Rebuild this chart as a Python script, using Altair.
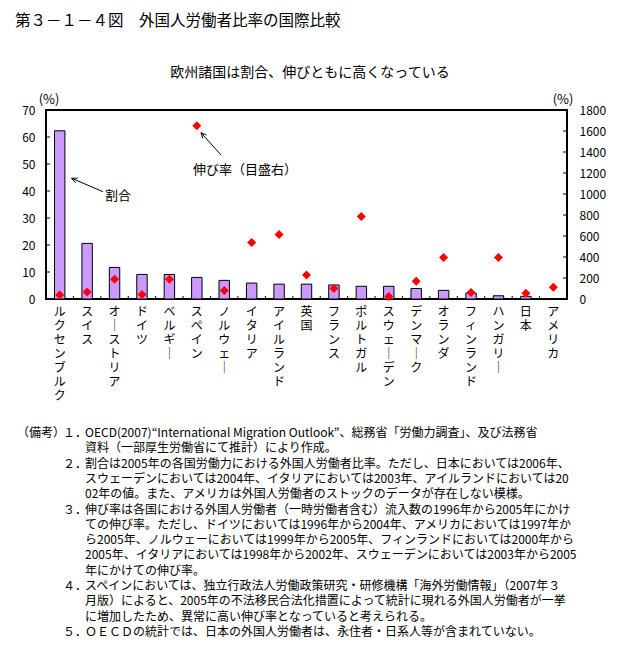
import math
import altair as alt
import pandas as pd

FONT = "Noto Sans CJK JP"

countries = ["ルクセンブルク", "スイス", "オーストリア", "ドイツ", "ベルギー", "スペイン",
             "ノルウェー", "イタリア", "アイルランド", "英国", "フランス", "ポルトガル",
             "スウェーデン", "デンマーク", "オランダ", "フィンランド", "ハンガリー", "日本", "アメリカ"]
ratio = [62.3, 20.6, 11.7, 9.1, 9.1, 8.0, 6.9, 5.9, 5.5, 5.5, 5.2, 4.7, 4.7, 3.9, 3.2, 2.2, 1.2, 1.0, None]
growth = [38, 66, 187, 44, 187, 1651, 82, 538, 614, 228, 101, 785, 25, 168, 396, 63, 396, 54, 111]
left_ticks = [0, 10, 20, 30, 40, 50, 60, 70]
right_ticks = [0, 200, 400, 600, 800, 1000, 1200, 1400, 1600, 1800]

title_text = "第３－１－４図　外国人労働者比率の国際比較"
subtitle_text = "欧州諸国は割合、伸びともに高くなっている"
note_numbers = ["１．", "", "２．", "", "", "３．", "", "", "", "", "４．", "", "", "５．"]
note_lines = [
    "OECD(2007)“International Migration Outlook”、総務省「労働力調査」、及び法務省",
    "資料（一部厚生労働省にて推計）により作成。",
    "割合は2005年の各国労働力における外国人労働者比率。ただし、日本においては2006年、",
    "スウェーデンにおいては2004年、イタリアにおいては2003年、アイルランドにおいては20",
    "02年の値。また、アメリカは外国人労働者のストックのデータが存在しない模様。",
    "伸び率は各国における外国人労働者（一時労働者含む）流入数の1996年から2005年にかけ",
    "ての伸び率。ただし、ドイツにおいては1996年から2004年、アメリカにおいては1997年か",
    "ら2005年、ノルウェーにおいては1999年から2005年、フィンランドにおいては2000年から",
    "2005年、イタリアにおいては1998年から2002年、スウェーデンにおいては2003年から2005",
    "年にかけての伸び率。",
    "スペインにおいては、独立行政法人労働政策研究・研修機構「海外労働情報」（2007年３",
    "月版）によると、2005年の不法移民合法化措置によって統計に現れる外国人労働者が一挙",
    "に増加したため、異常に高い伸び率となっていると考えられる。",
    "ＯＥＣＤの統計では、日本の外国人労働者は、永住者・日系人等が含まれていない。",
]

W, H = 521, 189
df = pd.DataFrame({"country": countries, "ratio": ratio, "growth": growth})
one = pd.DataFrame({"a": [0]})

# one row per character of each (vertically written) country label
chars = pd.DataFrame([
    {"country": c, "k": k, "ch": ("｜" if ch == "ー" else ch)}
    for c in countries for k, ch in enumerate(c)
])

xenc = alt.X("country:N", sort=countries,
             scale=alt.Scale(paddingInner=0, paddingOuter=0), axis=None)

bars = alt.Chart(df).mark_bar(fill="#CC99FF", stroke="black", strokeWidth=1,
                              width=alt.RelativeBandSize(0.38)).encode(
    x=xenc,
    y=alt.Y("ratio:Q", scale=alt.Scale(domain=[0, 70]),
            axis=alt.Axis(title=None, values=left_ticks, grid=False, ticks=False, domain=False,
                          labelFont=FONT, labelFontSize=12, labelColor="black", labelPadding=11,
                          format="d", orient="left")),
)

pts = alt.Chart(df).mark_point(shape="diamond", filled=True, color="#FF0000", size=81, opacity=1).encode(
    x=xenc,
    y=alt.Y("growth:Q", scale=alt.Scale(domain=[0, 1800]),
            axis=alt.Axis(title=None, values=right_ticks, grid=False, ticks=False, domain=False,
                          labelFont=FONT, labelFontSize=12, labelColor="black", labelPadding=12,
                          format="d", labelAlign="left", orient="right")),
)

LBL_LH = 14.1
xlabel_layers = []
for k in range(int(chars["k"].max()) + 1):
    xlabel_layers.append(
        alt.Chart(chars).transform_filter(alt.datum.k == k).mark_text(
            font=FONT, fontSize=12, baseline="middle", align="center", color="black"
        ).encode(x=xenc, y=alt.value(H + 12.5 + k * LBL_LH), text="ch:N")
    )

lt = alt.Chart(pd.DataFrame({"v": left_ticks})).mark_rule(color="black", strokeWidth=1).encode(
    y=alt.Y("v:Q", scale=alt.Scale(domain=[0, 70]), axis=None),
    x=alt.value(0), x2=alt.value(4))
rt = alt.Chart(pd.DataFrame({"v": right_ticks})).mark_rule(color="black", strokeWidth=1).encode(
    y=alt.Y("v:Q", scale=alt.Scale(domain=[0, 1800]), axis=None),
    x=alt.value(W - 4), x2=alt.value(W))
bt = alt.Chart(pd.DataFrame({"country": countries[1:]})).mark_rule(color="black", strokeWidth=1).encode(
    x=alt.X("country:N", sort=countries, bandPosition=0, axis=None),
    y=alt.value(H), y2=alt.value(H - 3))


def txt(text, x, y, size, align="center", baseline="middle"):
    return alt.Chart(one).mark_text(text=text, font=FONT, fontSize=size, align=align,
                                    baseline=baseline, color="black").encode(
        x=alt.value(x), y=alt.value(y))


def seg(x1, y1, x2, y2):
    return alt.Chart(one).mark_rule(color="black", strokeWidth=1).encode(
        x=alt.value(x1), y=alt.value(y1), x2=alt.value(x2), y2=alt.value(y2))


def arrow(tx, ty, hx, hy, L=6, ang=25):
    dx, dy = tx - hx, ty - hy
    n = math.hypot(dx, dy)
    ux, uy = dx / n, dy / n
    out = [seg(tx, ty, hx, hy)]
    for s in (1, -1):
        a = math.radians(ang * s)
        rx = ux * math.cos(a) - uy * math.sin(a)
        ry = ux * math.sin(a) + uy * math.cos(a)
        out.append(seg(hx, hy, hx + L * rx, hy + L * ry))
    return out


NY = 323
LH = 15.3
ann = [
    txt(title_text, -31, -89, 15.5, align="left"),
    txt(subtitle_text, 264, -37, 14),
    txt("(%)", 3, -10, 13),
    txt("(%)", 517, -10, 13),
    txt("割合", 72, 86, 13),
    txt("伸び率（目盛右）", 199, 60, 13),
    txt("（備考）", -29, NY, 12, align="left"),
]
for i, (num, line) in enumerate(zip(note_numbers, note_lines)):
    if num:
        ann.append(txt(num, 17, NY + i * LH, 12, align="left"))
    ann.append(txt(line, 39, NY + i * LH, 12, align="left"))
ann += arrow(57, 81.7, 25.7, 68.3)
ann += arrow(175, 45, 155, 22.7)

chart = alt.layer(bars, pts, *xlabel_layers, lt, rt, bt, *ann).resolve_scale(y="independent").properties(
    width=W, height=H,
    autosize=alt.AutoSizeParams(type="none"),
    padding={"left": 38, "top": 102, "right": 50, "bottom": 355},
).configure(font=FONT).configure_view(stroke="black", strokeWidth=2)

chart.save("out.html", embed_options={"renderer": "svg", "actions": False})
